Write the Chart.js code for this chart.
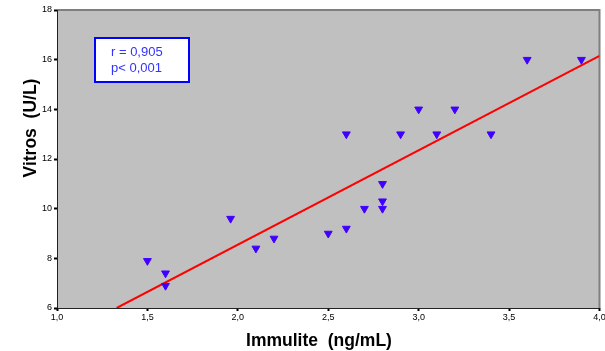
<!DOCTYPE html>
<html>
<head>
<meta charset="utf-8">
<script src="https://cdn.jsdelivr.net/npm/chart.js@4/dist/chart.umd.min.js"></script>
<style>
  html, body { margin: 0; padding: 0; background: #fff; }
  #wrap { width: 605px; height: 351px; }
</style>
</head>
<body>
<div id="wrap"><canvas id="myChart" width="605" height="351"></canvas></div>
<script>
// Immulite (x) vs Vitros (y)
const immulite = [1.5, 1.6, 1.6, 1.96, 2.1, 2.2, 2.5, 2.6, 2.6, 2.7, 2.8, 2.8, 2.8, 2.9, 3.0, 3.1, 3.2, 3.4, 3.6, 3.9];
const vitros   = [7.9, 7.4, 6.9, 9.6, 8.4, 8.8, 9.0, 9.2, 13.0, 10.0, 11.0, 10.3, 10.0, 13.0, 14.0, 13.0, 14.0, 13.0, 16.0, 16.0];

// fitted line end points (as drawn)
const fitX = [1.33, 4.0];
const fitY = [6.0, 16.15];

const xTicks = [1.0, 1.5, 2.0, 2.5, 3.0, 3.5, 4.0];
const yTicks = [6, 8, 10, 12, 14, 16, 18];

const statLines = ['r = 0,905', 'p< 0,001'];
const xTitle = 'Immulite  (ng/mL)';
const yTitle = 'Vitros  (U/L)';

const FONT = '"Liberation Sans", Arial, sans-serif';

// grey plot background, frame, stats box and axis titles
const decorPlugin = {
    id: 'decor',
    beforeDatasetsDraw(chart) {
        const { ctx, chartArea: a } = chart;
        ctx.save();
        ctx.fillStyle = '#c0c0c0';
        ctx.fillRect(a.left, a.top, a.right - a.left, a.bottom - a.top);
        ctx.strokeStyle = '#7f7f7f';
        ctx.lineWidth = 2;
        ctx.beginPath();
        ctx.moveTo(a.left, a.top);
        ctx.lineTo(a.right, a.top);
        ctx.lineTo(a.right, a.bottom);
        ctx.stroke();
        ctx.strokeStyle = '#222';
        ctx.lineWidth = 1;
        ctx.beginPath();
        ctx.moveTo(a.left + 0.5, a.top);
        ctx.lineTo(a.left + 0.5, a.bottom + 0.5);
        ctx.lineTo(a.right, a.bottom + 0.5);
        ctx.stroke();
        ctx.restore();
    },
    afterDraw(chart) {
        const { ctx, chartArea: a } = chart;
        ctx.save();
        // stats box
        const bx = a.left + 38, by = a.top + 28, bw = 94, bh = 44;
        ctx.fillStyle = '#fff';
        ctx.fillRect(bx, by, bw, bh);
        ctx.strokeStyle = '#0000ff';
        ctx.lineWidth = 2;
        ctx.strokeRect(bx, by, bw, bh);
        ctx.fillStyle = '#3333ff';
        ctx.font = '13px ' + FONT;
        ctx.textBaseline = 'middle';
        ctx.textAlign = 'left';
        ctx.fillText(statLines[0], bx + 16, by + 14);
        ctx.fillText(statLines[1], bx + 16, by + 30);

        // axis titles
        ctx.fillStyle = '#000';
        ctx.font = 'bold 17.5px ' + FONT;
        ctx.textAlign = 'center';
        ctx.textBaseline = 'alphabetic';
        ctx.fillText(xTitle, 319, 346);
        ctx.translate(31, 128);
        ctx.rotate(-Math.PI / 2);
        ctx.textBaseline = 'middle';
        ctx.fillText(yTitle, 0, 0);
        ctx.restore();
    }
};

const ctx = document.getElementById('myChart').getContext('2d');
const myChart = new Chart(ctx, {
    type: 'scatter',
    data: {
        datasets: [
            {
                label: 'fit',
                type: 'line',
                data: fitX.map((x, i) => ({ x: x, y: fitY[i] })),
                borderColor: '#ff0000',
                borderWidth: 2,
                pointRadius: 0,
                fill: false,
                order: 2
            },
            {
                label: 'data',
                data: immulite.map((x, i) => ({ x: x, y: vitros[i] })),
                pointStyle: 'triangle',
                rotation: 180,
                radius: 4.5,
                backgroundColor: '#4000ff',
                borderColor: '#4000ff',
                borderWidth: 1,
                order: 1
            }
        ]
    },
    options: {
        responsive: false,
        animation: false,
        layout: { padding: { top: 10, right: 3, left: 0, bottom: 0 } },
        plugins: {
            legend: { display: false },
            tooltip: { enabled: false }
        },
        scales: {
            x: {
                type: 'linear',
                min: 1, max: 4,
                afterFit: s => { s.height = 43; s.paddingRight = 0; },
                afterBuildTicks: s => { s.ticks = xTicks.map(v => ({ value: v })); },
                grid: { display: true, drawOnChartArea: false, tickLength: 3, tickWidth: 2, color: '#000' },
                border: { display: false },
                ticks: {
                    color: '#000',
                    font: { family: FONT, size: 9 },
                    padding: 1,
                    maxRotation: 0,
                    callback: v => v.toFixed(1).replace('.', ',')
                }
            },
            y: {
                type: 'linear',
                min: 6, max: 18,
                afterFit: s => { s.width = 57; },
                afterBuildTicks: s => { s.ticks = yTicks.map(v => ({ value: v })); },
                grid: { display: true, drawOnChartArea: false, tickLength: 3, tickWidth: 2, color: '#000' },
                border: { display: false },
                ticks: {
                    color: '#000',
                    font: { family: FONT, size: 9 },
                    padding: 2,
                    callback: v => String(v)
                }
            }
        }
    },
    plugins: [decorPlugin]
});
</script>
</body>
</html>
